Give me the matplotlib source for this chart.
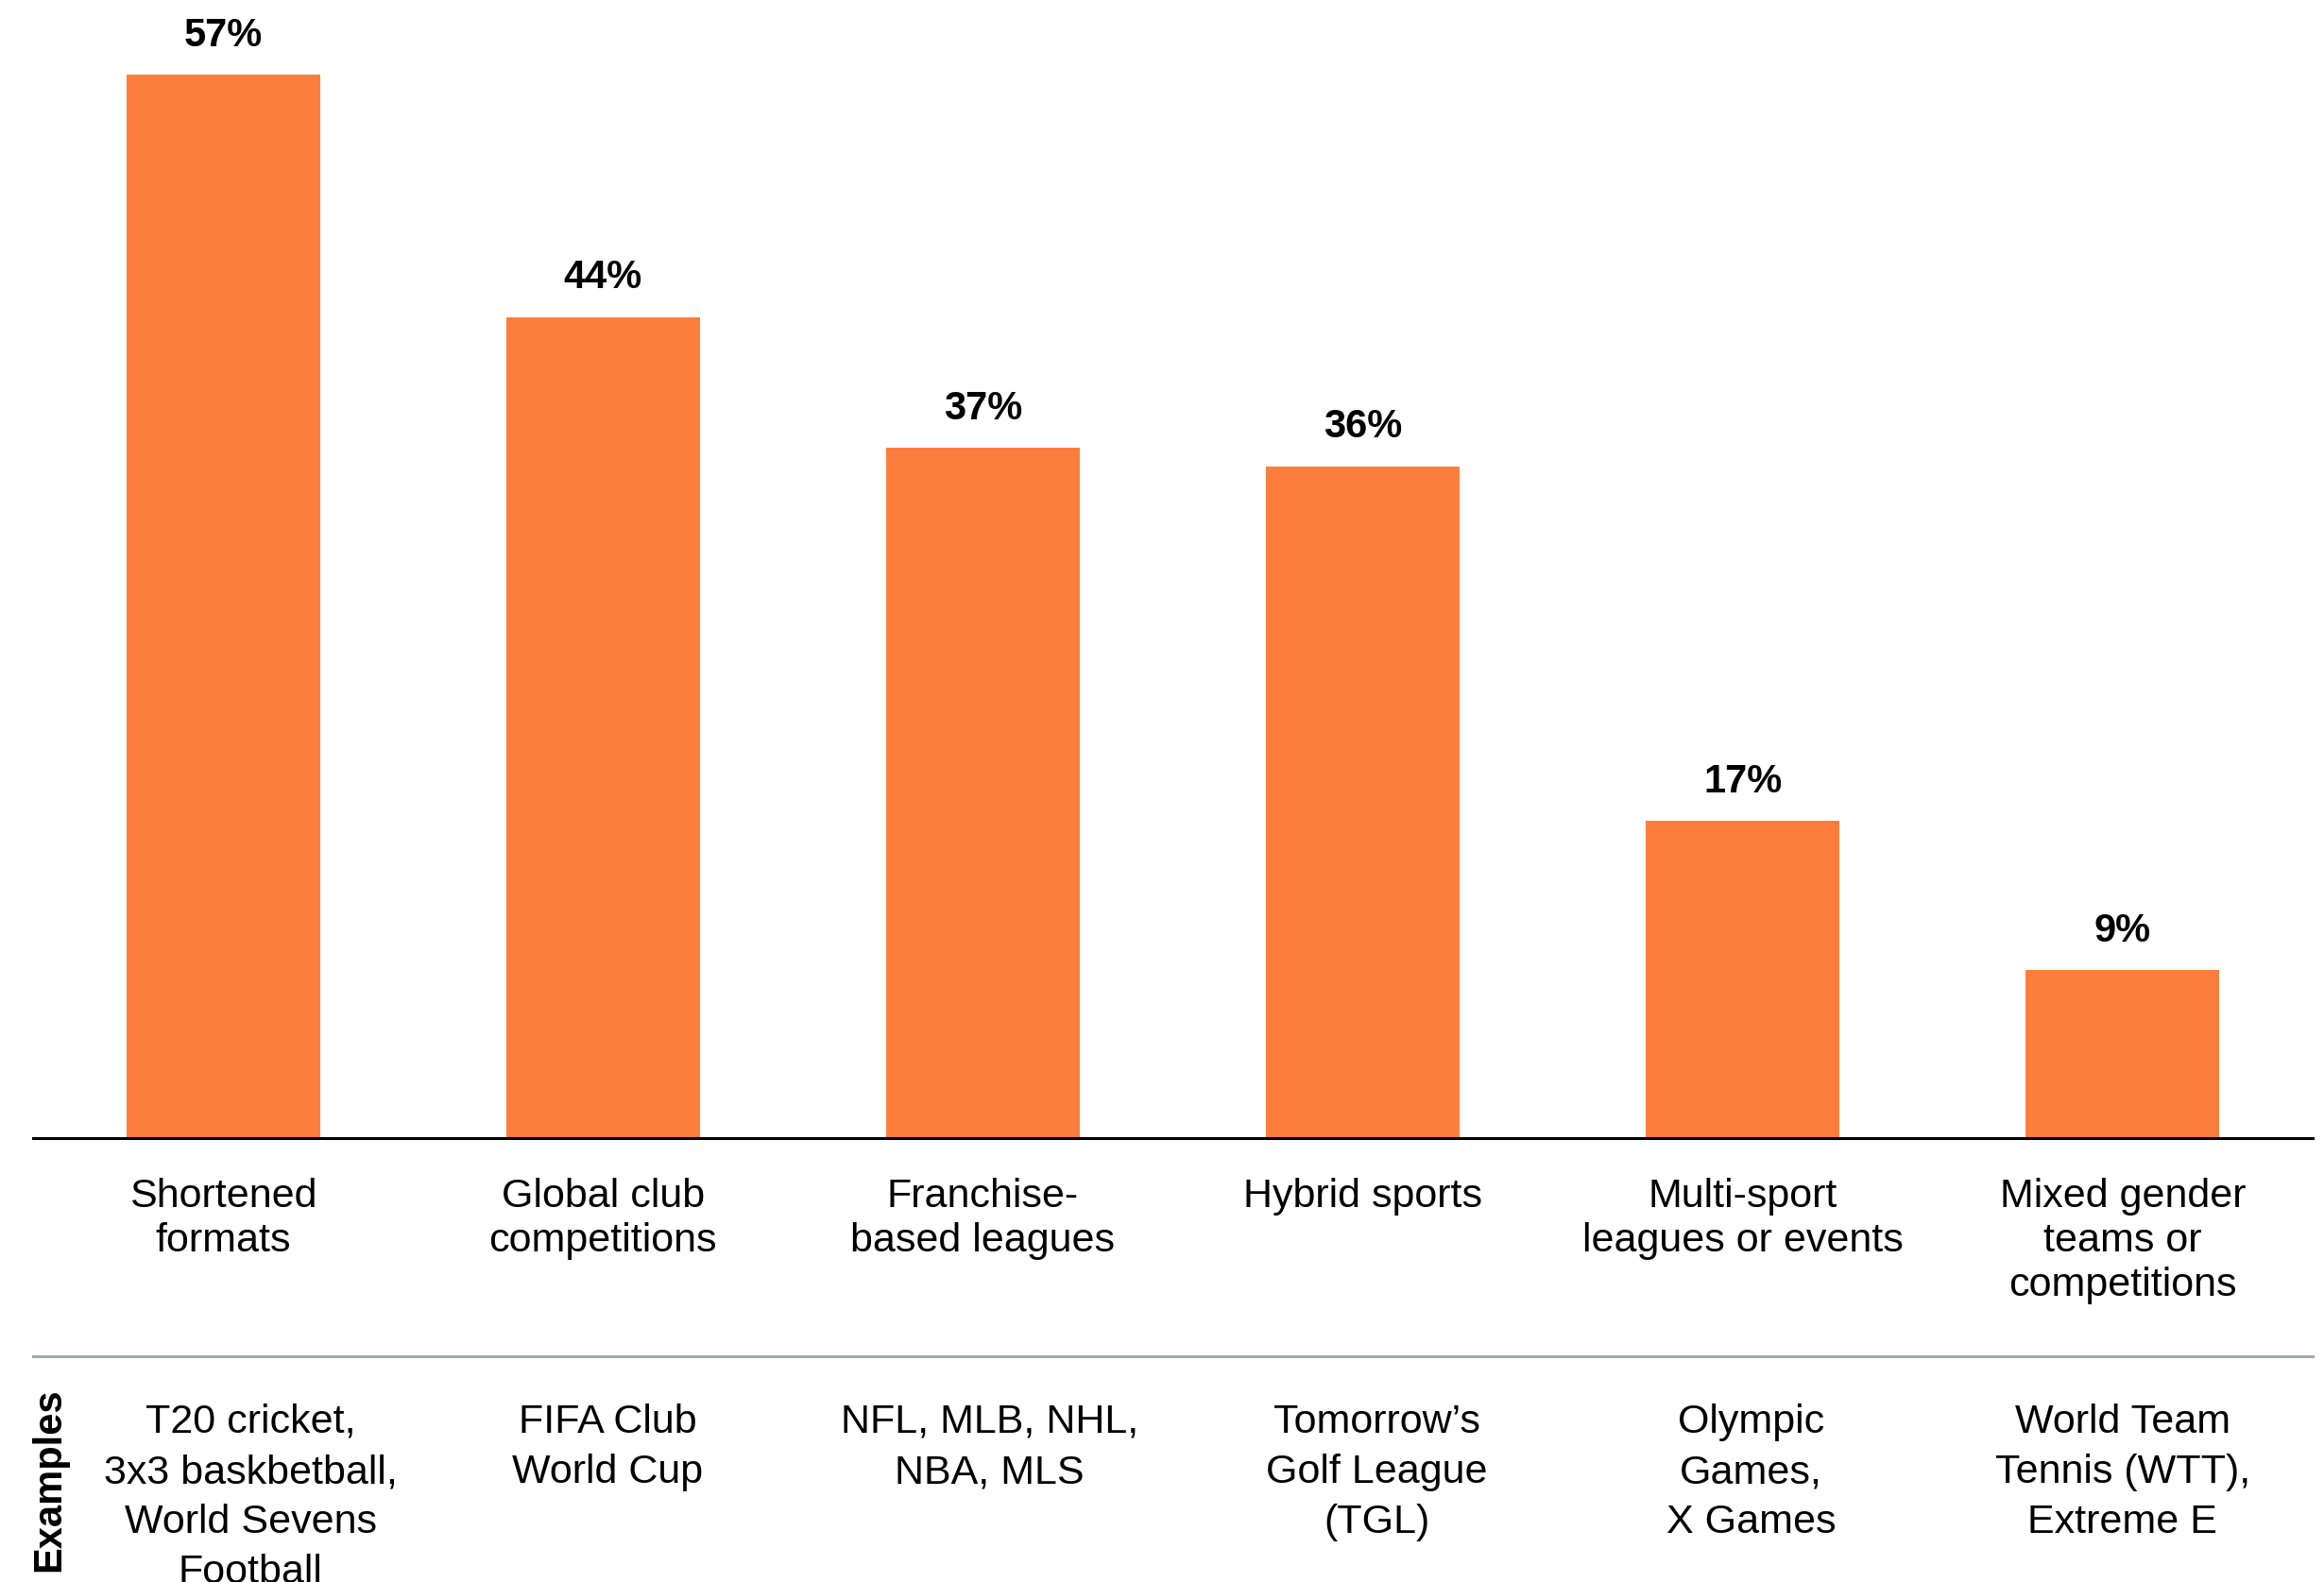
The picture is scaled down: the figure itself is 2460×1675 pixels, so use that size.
import matplotlib
matplotlib.use('Agg')
from matplotlib import pyplot as plt
from matplotlib import transforms
from matplotlib.lines import Line2D

plt.rcParams['font.family'] = ['Liberation Sans', 'DejaVu Sans']

categories = ['Shortened\nformats', 'Global club\ncompetitions', 'Franchise-\nbased leagues',
              'Hybrid sports', 'Multi-sport\nleagues or events', 'Mixed gender\nteams or\ncompetitions']
shares = [57, 44, 37, 36, 17, 9]
examples = ['T20 cricket,\n3x3 baskbetball,\nWorld Sevens\nFootball',
            'FIFA Club\nWorld Cup',
            'NFL, MLB, NHL,\nNBA, MLS',
            'Tomorrow\u2019s\nGolf League\n(TGL)',
            'Olympic\nGames,\nX Games',
            'World Team\nTennis (WTT),\nExtreme E']

# small sideways nudges for the examples row
example_shift = [0.072, 0.012, 0.017, 0.037, 0.022, 0.0]

W, H = 2460, 1675
bar_color = '#fd7e3c'

fig = plt.figure(figsize=(W / 100, H / 100), dpi=100)
axis_y = 1205
ax = fig.add_axes([35 / W, 1 - axis_y / H, (2448 - 35) / W, axis_y / H])

x = list(range(len(shares)))
ax.bar(x, shares, width=0.51, color=bar_color, zorder=2)
ax.set_xlim(-0.5, 5.5)
ax.set_ylim(0, axis_y / 19.75)

for xi, v in zip(x, shares):
    ax.annotate(f'{v}%', (xi, v), xytext=(0, 22), textcoords='offset points',
                ha='center', va='baseline', fontsize=30, fontweight='bold')

for s in ['top', 'left', 'right']:
    ax.spines[s].set_visible(False)
ax.spines['bottom'].set_linewidth(2.2)
ax.spines['bottom'].set_color('black')
ax.set_xticks([])
ax.set_yticks([])

# text below the axis: x in data units, y in figure pixels
tr = transforms.blended_transform_factory(ax.transData, fig.transFigure)

def fy(py):
    return 1 - py / H

def lines_at(xpos, first_base, step, txt, size):
    for i, line in enumerate(txt.split('\n')):
        ax.text(xpos, fy(first_base + i * step), line, transform=tr,
                ha='center', va='baseline', fontsize=size)

for xi, lab in zip(x, categories):
    lines_at(xi, 1278, 47, lab, 31)

fig.add_artist(Line2D([35 / W, 2448 / W], [fy(1436), fy(1436)], color='#a3a8b8', lw=2.2))

for xi, sh, ex in zip(x, example_shift, examples):
    lines_at(xi + sh, 1517, 53, ex, 31)

fig.text(52 / W, fy(1567), 'Examples', rotation=90, ha='center', va='center',
         fontsize=30, fontweight='bold')

fig.savefig('out.png', dpi=100)
